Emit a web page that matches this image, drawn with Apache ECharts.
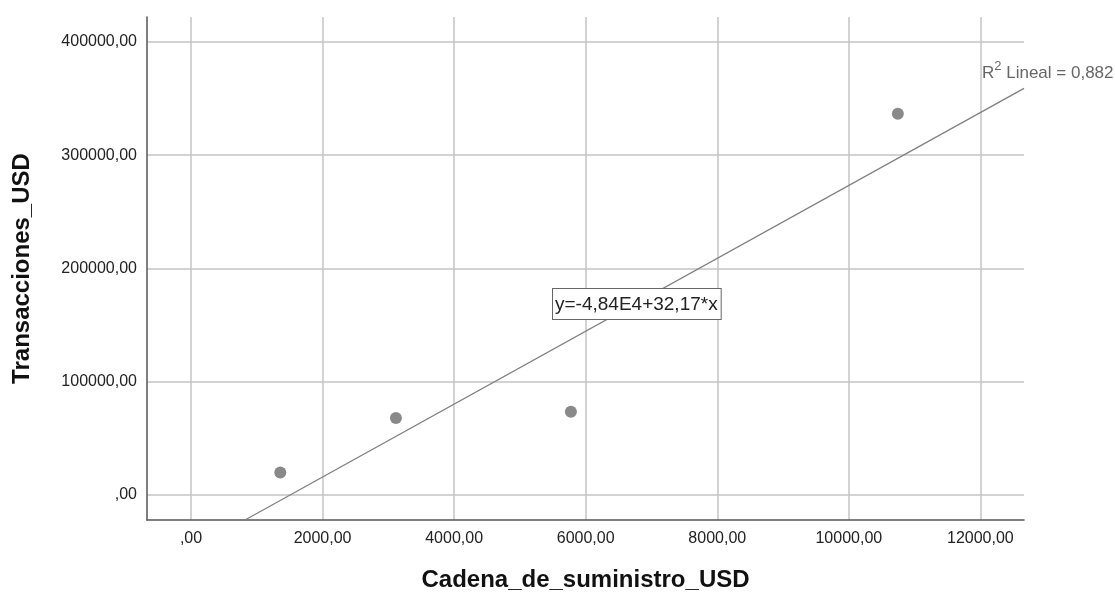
<!DOCTYPE html>
<html>
<head>
<meta charset="utf-8">
<script src="https://cdn.jsdelivr.net/npm/echarts@6/dist/echarts.min.js"></script>
<style>html,body{margin:0;padding:0;background:#fff;}#c{width:1115px;height:598px;}</style>
</head>
<body>
<div id="c"></div>
<script>
// Data
const supplyChainUSD = [1357, 3115, 5775, 10745];
const transactionsUSD = [19950, 67960, 73520, 336540];
const xTicks = [0, 2000, 4000, 6000, 8000, 10000, 12000];
const yTicks = [0, 100000, 200000, 300000, 400000];
const fitIntercept = -48400;
const fitSlope = 32.17;
const equationText = 'y=-4,84E4+32,17*x';
const r2Text = '0,882';

const X_MIN = -669, X_MAX = 12663, Y_MIN = -22000, Y_MAX = 422000;

const points = supplyChainUSD.map((x, i) => [x, transactionsUSD[i]]);
const xStart = (Y_MIN - fitIntercept) / fitSlope;
const fitLine = [[xStart, Y_MIN], [X_MAX, fitIntercept + fitSlope * X_MAX]];

function fmt(v) {
  let s = Number(v).toFixed(2).replace('.', ',');
  if (s.startsWith('0,')) s = s.slice(1);
  return s;
}

const FONT = '"Liberation Sans", Arial, sans-serif';
const chart = echarts.init(document.getElementById('c'), null, {renderer: 'canvas'});
chart.setOption({
  animation: false,
  backgroundColor: '#ffffff',
  grid: {left: 147, right: 91, top: 17, bottom: 78, containLabel: false},
  xAxis: {
    type: 'value', min: X_MIN, max: X_MAX,
    name: 'Cadena_de_suministro_USD', nameLocation: 'middle', nameGap: 48,
    nameTextStyle: {fontFamily: FONT, fontSize: 24, fontWeight: 'bold', color: '#111'},
    axisLine: {show: true, onZero: false, lineStyle: {color: '#555', width: 1.5}},
    axisTick: {show: false, customValues: xTicks},
    axisLabel: {customValues: xTicks, formatter: fmt, fontFamily: FONT, fontSize: 16, color: '#222', margin: 11},
    splitLine: {show: true, lineStyle: {color: '#c4c4c4', width: 1.5}}
  },
  yAxis: {
    type: 'value', min: Y_MIN, max: Y_MAX,
    name: 'Transacciones_USD', nameLocation: 'middle', nameGap: 113, nameRotate: 90,
    nameTextStyle: {fontFamily: FONT, fontSize: 24, fontWeight: 'bold', color: '#111'},
    axisLine: {show: true, onZero: false, lineStyle: {color: '#555', width: 1.5}},
    axisTick: {show: false, customValues: yTicks},
    axisLabel: {customValues: yTicks, formatter: fmt, fontFamily: FONT, fontSize: 16, color: '#222', margin: 10},
    splitLine: {show: true, lineStyle: {color: '#c4c4c4', width: 1.5}}
  },
  series: [
    {
      type: 'line', data: fitLine, showSymbol: false, symbol: 'none',
      lineStyle: {color: '#808080', width: 1.3}, z: 3, silent: true
    },
    {
      type: 'scatter', data: points, symbolSize: 12,
      itemStyle: {color: '#6b6b6b'}, z: 4
    }
  ],
  graphic: [
    {
      type: 'text', left: 552, top: 288, z: 10,
      style: {
        text: equationText, fontFamily: FONT, fontSize: 19, fill: '#222',
        backgroundColor: '#fff', borderColor: '#666', borderWidth: 1,
        padding: [6, 3, 5, 2]
      }
    },
    {
      type: 'text', left: 982, top: 60, z: 10,
      style: {
        text: '{r|R}{s|2}{r| Lineal = ' + r2Text + '}',
        rich: {
          r: {fontFamily: FONT, fontSize: 17, fill: '#666', verticalAlign: 'bottom'},
          s: {fontFamily: FONT, fontSize: 13, fill: '#666', verticalAlign: 'top', padding: [0, 0, 9, 0]}
        }
      }
    }
  ]
});
</script>
</body>
</html>
